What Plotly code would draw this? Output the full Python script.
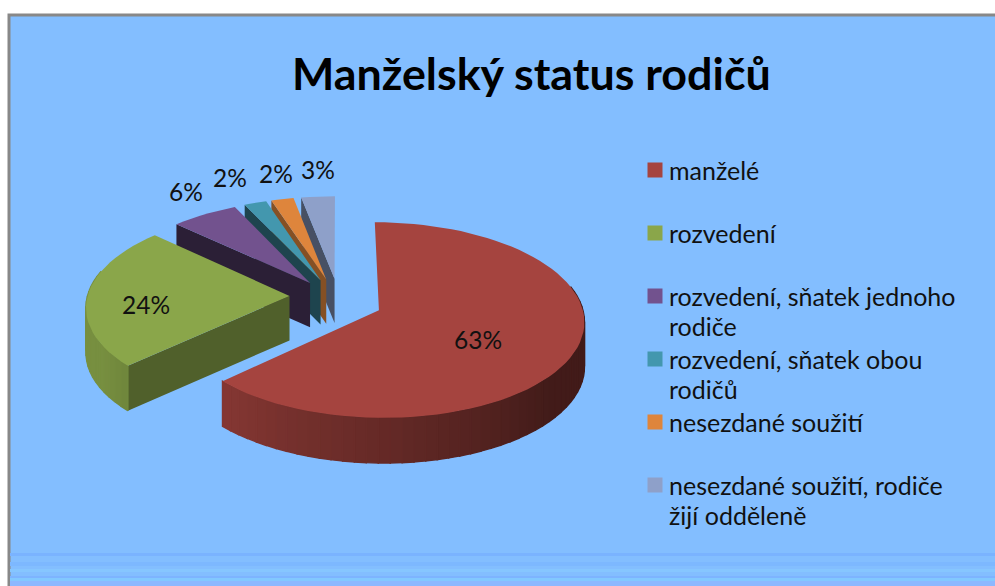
import math
import plotly.graph_objects as go

categories = ["manželé", "rozvedení", "rozvedení, sňatek jednoho rodiče",
              "rozvedení, sňatek obou rodičů", "nesezdané soužití",
              "nesezdané soužití, rodiče žijí odděleně"]
values = [63, 24, 6, 2, 2, 3]
colors = ["#A5443F", "#8AA64A", "#72528E", "#4397AE", "#DE853C", "#8EA0C9"]
legend_lines = [["manželé"], ["rozvedení"], ["rozvedení, sňatek jednoho", "rodiče"],
                ["rozvedení, sňatek obou", "rodičů"], ["nesezdané soužití"],
                ["nesezdané soužití, rodiče", "žijí odděleně"]]
title = "Manželský status rodičů"

# styling / layout constants (pixel space of the canvas)
W, H = 995, 586
CX, CY, A, B = 336, 301, 202, 95
PERSP = 0.10
EXPLODE = 0.24
DEPTH = 45
FONT = "Lato"
wall_shade = [0, 0.58, 0.38, 0.45, 0.6, 0.5]
nudge_x = [-2, 2, 2, 2, 2, 3]
nudge_y = [0, -5, 0, 0, 0, 0]
label_x = [478, 146, 186, 230, 276, 318]
label_y = [343, 308, 195, 181, 177, 173]
legend_y = [170, 233, 296, 359, 422, 485]
LINE_STEP = 30
stripes = [(553, 556, "#7AB3FF"), (562, 566, "#7DB8FF"), (569, 572, "#86C6FF"),
           (576, 578, "#7DB4FF"), (578, 581, "#82C8FF"), (581, 586, "#8CB8FF")]


def proj(x, y, z=0.0):
    """x right, y away from viewer (unit pie); z pixels downward."""
    s = 1 / (1 + PERSP * y)
    return CX + A * x * s, CY - B * y * s + z * (0.85 + 0.15 * s / 1.1)


def rgb(h):
    return tuple(int(h[i:i + 2], 16) for i in (1, 3, 5))


def shade(h, f):
    return "rgb(%d,%d,%d)" % tuple(round(c * f) for c in rgb(h))


def rim_shade(theta):
    if theta <= 130:
        return 0.40
    return min(0.86, 0.40 + (theta - 130) / 100 * 0.42)


fig = go.Figure()
total = sum(values)
edges = [0.0]
for v in values:
    edges.append(edges[-1] + 360 * v / total)

# Slices are painted far to near
order = [5, 4, 3, 2, 1, 0]
for i in order:
    a0, a1 = edges[i], edges[i + 1]
    mid = math.radians((a0 + a1) / 2)
    ox, oy = EXPLODE * math.sin(mid), EXPLODE * math.cos(mid)
    n = max(4, int(a1 - a0) // 3)
    th = [a0 + (a1 - a0) * k / n for k in range(n + 1)]

    def pt(t, r=1.0, z=0.0):
        px, py = proj(ox + r * math.sin(math.radians(t)),
                      oy + r * math.cos(math.radians(t)), z)
        return px + nudge_x[i], py + nudge_y[i]

    # start-edge wall
    if wall_shade[i]:
        wall = [pt(a0, 0), pt(a0), pt(a0, 1, DEPTH), pt(a0, 0, DEPTH), pt(a0, 0)]
        fig.add_trace(go.Scatter(x=[p[0] for p in wall], y=[p[1] for p in wall],
                                 fill="toself", mode="lines", line=dict(width=0),
                                 fillcolor=shade(colors[i], wall_shade[i]),
                                 hoverinfo="skip", showlegend=False))
    # rim wall, shaded by angle
    for t0, t1 in zip(th[:-1], th[1:]):
        if math.cos(math.radians((t0 + t1) / 2)) > 0.25:
            continue
        q = [pt(t0), pt(t1), pt(t1, 1, DEPTH), pt(t0, 1, DEPTH), pt(t0)]
        col = shade(colors[i], rim_shade((t0 + t1) / 2))
        fig.add_trace(go.Scatter(x=[p[0] for p in q], y=[p[1] for p in q],
                                 mode="lines", fill="toself",
                                 line=dict(width=1.5, color=col), fillcolor=col,
                                 hoverinfo="skip", showlegend=False))
    # top face
    face = [pt(a0, 0)] + [pt(t) for t in th] + [pt(a0, 0)]
    fig.add_trace(go.Scatter(x=[p[0] for p in face], y=[p[1] for p in face],
                             fill="toself", mode="lines", line=dict(width=0),
                             fillcolor=colors[i], name=categories[i],
                             hoverinfo="name", showlegend=False))

# Data labels
fig.add_trace(go.Scatter(x=label_x, y=label_y, mode="text",
                         text=[f"{v}%" for v in values],
                         textfont=dict(family=FONT, size=24.5, color="#111111"),
                         hoverinfo="skip", showlegend=False))

# Legend
fig.add_trace(go.Scatter(x=[655] * len(legend_y), y=legend_y, mode="markers",
                         marker=dict(symbol="square", size=15, color=colors, line=dict(width=0)),
                         hoverinfo="skip", showlegend=False))
annotations = []
for y, lines in zip(legend_y, legend_lines):
    for k, line in enumerate(lines):
        annotations.append(dict(x=669, y=y + k * LINE_STEP, xref="x", yref="y", text=line,
                                xanchor="left", yanchor="middle", align="left",
                                showarrow=False, xshift=-2,
                                font=dict(family=FONT, size=25, color="#111111")))
annotations.append(dict(x=531, y=73, xref="x", yref="y", text=f"<b>{title}</b>",
                        showarrow=False, xanchor="center", yanchor="middle",
                        font=dict(family=FONT, size=44.8, color="#000000")))

shapes = [dict(type="rect", layer="below", x0=9, x1=W + 5, y0=15, y1=H + 5,
               fillcolor="#83BEFF", line=dict(color="#888888", width=3))]
for y0, y1, c in stripes:
    shapes.append(dict(type="rect", layer="below", x0=10, x1=W, y0=y0, y1=y1,
                       fillcolor=c, line=dict(width=0)))

fig.update_layout(width=W, height=H, margin=dict(l=0, r=0, t=0, b=0),
                  paper_bgcolor="white", plot_bgcolor="white",
                  xaxis=dict(range=[0, W], visible=False, fixedrange=True),
                  yaxis=dict(range=[H, 0], visible=False, fixedrange=True),
                  shapes=shapes, annotations=annotations, showlegend=False)
fig.write_html("out.html", config=dict(displayModeBar=False),
               post_script="document.body.style.margin='0';document.documentElement.style.overflow='hidden';")
